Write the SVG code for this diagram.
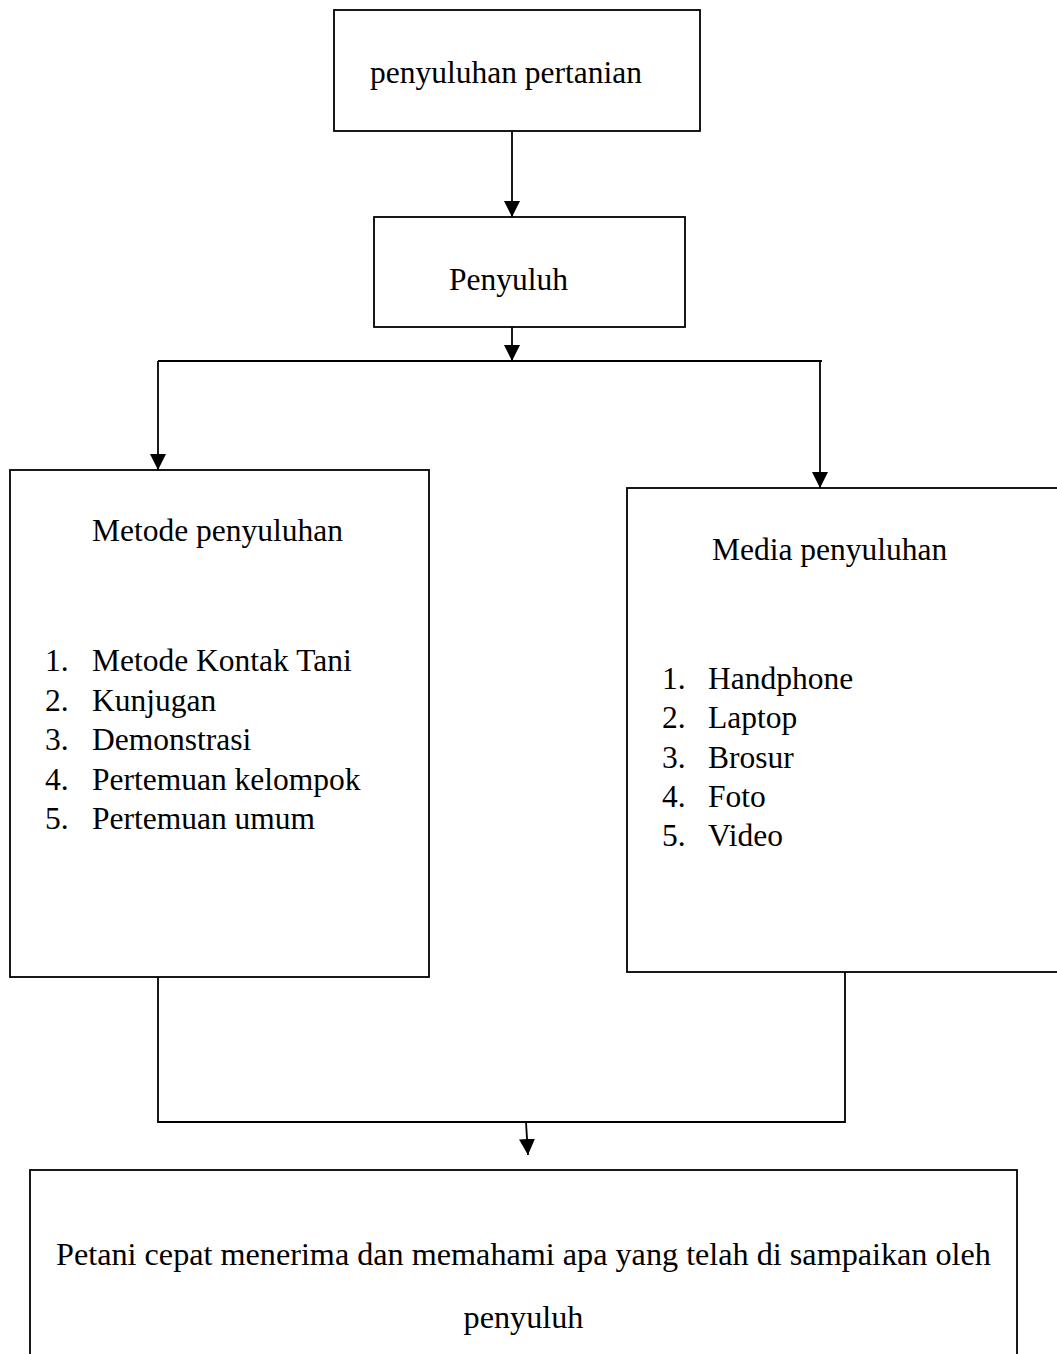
<svg xmlns="http://www.w3.org/2000/svg" width="1057" height="1354" viewBox="0 0 1057 1354">
<style>
.box{fill:#fff;stroke:#000;stroke-width:1.8}
.ln{fill:none;stroke:#000;stroke-width:1.8}
.t{font-family:"Liberation Serif","Times New Roman",serif;font-size:31.5px;fill:#000}
</style>
<defs>
<marker id="ah" markerUnits="userSpaceOnUse" markerWidth="16" markerHeight="16" refX="16" refY="8" orient="auto" viewBox="0 0 16 16">
<path d="M0,0 L16,8 L0,16 Z" fill="#000"/>
</marker>
</defs>
<rect width="1057" height="1354" fill="#fff"/>
<g id="connectors">
<line class="ln" x1="512" y1="131" x2="512" y2="217" marker-end="url(#ah)"/>
<line class="ln" x1="512" y1="327" x2="512" y2="361" marker-end="url(#ah)"/>
<path class="ln" d="M158,361 L822,361"/>
<line class="ln" x1="158" y1="361" x2="158" y2="470" marker-end="url(#ah)"/>
<line class="ln" x1="820" y1="361" x2="820" y2="488" marker-end="url(#ah)"/>
<path class="ln" d="M158,977 L158,1122 L845,1122 L845,972"/>
<line class="ln" x1="526" y1="1122" x2="528" y2="1155" marker-end="url(#ah)"/>
</g>
<g id="node-penyuluhan-pertanian">
<rect class="box" x="334" y="10" width="366" height="121"/>
<text class="t" x="370" y="83">penyuluhan pertanian</text>
</g>
<g id="node-penyuluh">
<rect class="box" x="374" y="217" width="311" height="110"/>
<text class="t" x="449" y="290">Penyuluh</text>
</g>
<g id="node-metode">
<rect class="box" x="10" y="470" width="419" height="507"/>
<text class="t" x="92" y="541">Metode penyuluhan</text>
<text class="t" x="45" y="671">1.</text><text class="t" x="92" y="671">Metode Kontak Tani</text>
<text class="t" x="45" y="711">2.</text><text class="t" x="92" y="711">Kunjugan</text>
<text class="t" x="45" y="750">3.</text><text class="t" x="92" y="750">Demonstrasi</text>
<text class="t" x="45" y="790">4.</text><text class="t" x="92" y="790">Pertemuan kelompok</text>
<text class="t" x="45" y="829">5.</text><text class="t" x="92" y="829">Pertemuan umum</text>
</g>
<g id="node-media">
<rect class="box" x="627" y="488" width="440" height="484"/>
<text class="t" x="712" y="560">Media penyuluhan</text>
<text class="t" x="662" y="689">1.</text><text class="t" x="708" y="689">Handphone</text>
<text class="t" x="662" y="728">2.</text><text class="t" x="708" y="728">Laptop</text>
<text class="t" x="662" y="768">3.</text><text class="t" x="708" y="768">Brosur</text>
<text class="t" x="662" y="807">4.</text><text class="t" x="708" y="807">Foto</text>
<text class="t" x="662" y="846">5.</text><text class="t" x="708" y="846">Video</text>
</g>
<g id="node-petani">
<rect class="box" x="30" y="1170" width="987" height="200"/>
<text class="t" x="523.5" y="1265" text-anchor="middle" style="font-size:32.2px">Petani cepat menerima dan memahami apa yang telah di sampaikan oleh</text>
<text class="t" x="523.5" y="1328" text-anchor="middle" style="font-size:32.2px">penyuluh</text>
</g>
</svg>
